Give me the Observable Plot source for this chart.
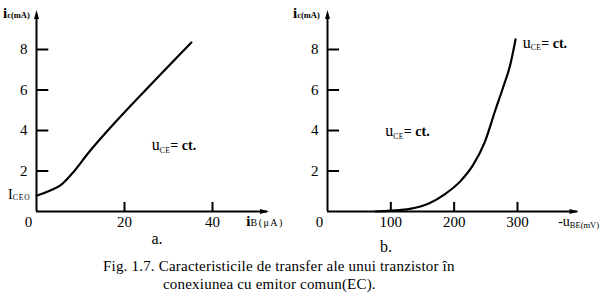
<!DOCTYPE html>
<html><head><meta charset="utf-8">
<script src="https://cdn.jsdelivr.net/npm/d3@7"></script>
<script src="https://cdn.jsdelivr.net/npm/@observablehq/plot@0.6"></script>
<style>
body{margin:0;background:#fff;}
#wrap{position:relative;width:604px;height:293px;font-family:"Liberation Serif","Times New Roman","DejaVu Serif",serif;color:#000;background:#fff;overflow:hidden}
#a{position:absolute;left:0;top:0}
#b{position:absolute;left:290px;top:0}
.cap{position:absolute;font-size:15px;letter-spacing:0.2px;line-height:15px;white-space:nowrap}
</style></head><body>
<div id="wrap"><div id="a"></div><div id="b"></div>
<div class="cap" id="cap1" style="left:103px;top:259px"></div>
<div class="cap" id="cap2" style="left:163px;top:276.8px"></div></div>
<script>
// ---- data ----
const iB  = [0, 3, 5.5, 8, 12, 16.2, 24.8, 35.2];                 // µA
const icA = [0.78, 1.02, 1.3, 1.85, 2.95, 4.0, 6.0, 8.35];         // mA
const uBE = [75, 100, 130, 160, 185, 210, 230, 248, 265, 277, 289, 297]; // mV
const icB = [0, 0.04, 0.13, 0.4, 0.85, 1.5, 2.3, 3.4, 5.0, 6.1, 7.3, 8.5]; // mA
const yTicks  = [2, 4, 6, 8];
const xTicksA = [20, 40];
const xTicksB = [100, 200, 300];
const captions = ["Fig. 1.7. Caracteristicile de transfer ale unui tranzistor în", "conexiunea cu emitor comun(EC)."];

const serif = '"Liberation Serif", "Times New Roman", "DejaVu Serif", serif';
const dataA = iB.map((x, i) => ({x, y: icA[i]}));
const dataB = uBE.map((x, i) => ({x, y: icB[i]}));

// narrow filled arrowhead symbol (points up before rotation)
const arrowSym = {draw(ctx, size) {
  const s = Math.sqrt(size / Math.PI);
  ctx.moveTo(0, -s * 1.6); ctx.lineTo(s * 0.55, s * 0.4); ctx.lineTo(-s * 0.55, s * 0.4); ctx.closePath();
}};

function chart({width, marginLeft, marginRight, xDomain, xAxisEnd, xArrow, yAxisTop, data, xTicks, yTickLen, xTickLen}) {
  return Plot.plot({
    width, height: 256,
    marginLeft, marginRight, marginTop: 8.5, marginBottom: 45,
    x: {domain: xDomain},
    y: {domain: [0, 10]},
    style: {fontFamily: serif, fontSize: "15px", background: "white", color: "black", overflow: "visible"},
    marks: [
      Plot.axisY({ticks: yTicks, tickSize: 0, tickPadding: 9, fontSize: 15, fontFamily: serif, label: null}),
      Plot.axisX({ticks: xTicks, tickSize: 0, tickPadding: 5, fontSize: 15, fontFamily: serif, label: null}),
      Plot.ruleY([0], {x1: 0, x2: xAxisEnd, stroke: "black", strokeWidth: 2}),
      Plot.ruleX([0], {y1: 0, y2: yAxisTop, stroke: "black", strokeWidth: 2}),
      Plot.ruleY(yTicks, {x1: 0, x2: yTickLen, stroke: "black", strokeWidth: 2}),
      Plot.ruleX(xTicks, {y1: 0, y2: xTickLen, stroke: "black", strokeWidth: 2}),
      Plot.dot([0], {x: 0, y: yAxisTop, symbol: arrowSym, r: 4.5, fill: "black", stroke: null}),
      Plot.dot([0], {x: xArrow, y: 0, symbol: arrowSym, r: 4.5, rotate: 90, fill: "black", stroke: null}),
      Plot.line(data, {x: "x", y: "y", curve: "monotone-x", stroke: "black", strokeWidth: 2.2}),
      Plot.text(["0"], {x: 0, y: 0, dx: -8, dy: 11, fontSize: 15, fontFamily: serif})
    ]
  });
}

function label(svg, x, y, parts, anchor) {
  const t = d3.select(svg).append("text").attr("x", x).attr("y", y)
    .style("font-family", serif).attr("fill", "black").attr("text-anchor", anchor || "start");
  parts.forEach(p => {
    t.append("tspan").text(p.t).attr("font-size", p.s).attr("font-weight", p.w || "normal")
      .attr("dy", p.dy || 0).attr("letter-spacing", p.ls || 0);
  });
}

const pa = chart({width: 290, marginLeft: 36, marginRight: 34, xDomain: [0, 50], xAxisEnd: 52.5, xArrow: 51.2,
  yAxisTop: 9.6, data: dataA, xTicks: xTicksA, yTickLen: 2.8, xTickLen: 0.45});
const pb = chart({width: 314, marginLeft: 37, marginRight: 23.7, xDomain: [0, 400], xAxisEnd: 395, xArrow: 385,
  yAxisTop: 9.6, data: dataB, xTicks: xTicksB, yTickLen: 19, xTickLen: 0.45});
document.getElementById("a").appendChild(pa);
document.getElementById("b").appendChild(pb);

const icLabel = [{t: "i", s: 15, w: "bold"}, {t: "c(mA)", s: 8.5, w: "bold", dy: 0}];
const uce = [{t: "u", s: 16}, {t: "CE", s: 7.5, dy: 2.5, ls: 0.5}, {t: "= ct.", s: 14, w: "bold", dy: -2.5}];

// chart a labels
{
  const sx = pa.scale("x"), sy = pa.scale("y");
  const x0 = sx.apply(0), y0 = sy.apply(0);
  label(pa, x0 - 33, 18, icLabel);
  label(pa, x0 - 28, 199, [{t: "I", s: 14}, {t: "CEO", s: 7.5, dy: 1, ls: 1}]);
  label(pa, sx.apply(47.8), y0 + 15, [{t: "i", s: 15, w: "bold"}, {t: "B(μA)", s: 10, dy: 0, ls: 1.5}]);
  label(pa, sx.apply(26.3), sy.apply(3.0), uce);
  label(pa, sx.apply(27.5), y0 + 33, [{t: "a.", s: 16}], "middle");
}
// chart b labels
{
  const sx = pb.scale("x"), sy = pb.scale("y");
  const x0 = sx.apply(0), y0 = sy.apply(0);
  label(pb, x0 - 34, 18, icLabel);
  label(pb, sx.apply(365), y0 + 15, [{t: "-u", s: 14}, {t: "BE(mV)", s: 8.5, dy: 1.5}]);
  label(pb, sx.apply(92), sy.apply(3.7), uce);
  label(pb, sx.apply(309), sy.apply(8.05), uce);
  label(pb, sx.apply(93), y0 + 41, [{t: "b.", s: 16}], "middle");
}

document.getElementById("cap1").textContent = captions[0];
document.getElementById("cap2").textContent = captions[1];
</script>
</body></html>
